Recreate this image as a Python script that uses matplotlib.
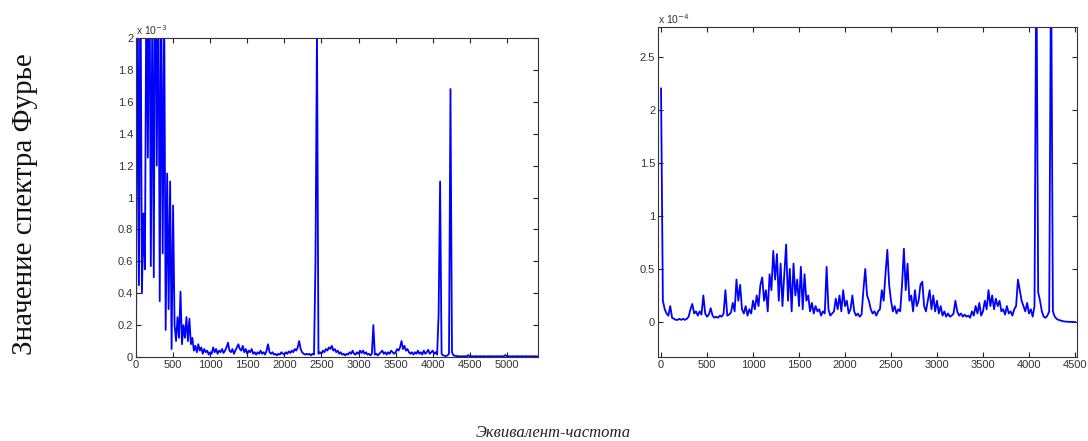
import numpy as np
import matplotlib
matplotlib.use("Agg")
import matplotlib.pyplot as plt
from matplotlib.ticker import FuncFormatter

# ---------------- data ----------------
# left spectrum, values in units of 1e-3, sampled every 20 frequency units from 0
left_step = 20
left_vals = [
    0.0, 2.6, 0.45, 2.5, 0.4, 0.9, 0.55, 2.4, 1.25, 2.8,          # 0-180
    0.57, 2.2, 0.5, 3.0, 1.2, 2.6, 0.35, 2.3, 0.65, 2.2,          # 200-380
    0.17, 1.15, 0.3, 1.1, 0.05, 0.95, 0.2, 0.1, 0.25, 0.12,       # 400-580
    0.41, 0.08, 0.2, 0.12, 0.25, 0.1, 0.24, 0.08, 0.12, 0.04,     # 600-780
    0.07, 0.03, 0.08, 0.04, 0.06, 0.02, 0.05, 0.03, 0.04, 0.015,  # 800-980
    0.03, 0.02, 0.06, 0.03, 0.05, 0.02, 0.04, 0.03, 0.05, 0.025,  # 1000-1180
    0.04, 0.06, 0.09, 0.04, 0.03, 0.05, 0.02, 0.04, 0.06, 0.08,   # 1200-1380
    0.05, 0.04, 0.07, 0.03, 0.05, 0.02, 0.04, 0.03, 0.05, 0.02,   # 1400-1580
    0.03, 0.015, 0.03, 0.02, 0.04, 0.02, 0.03, 0.015, 0.04, 0.08, # 1600-1780
    0.03, 0.02, 0.03, 0.015, 0.02, 0.01, 0.02, 0.015, 0.03, 0.02, # 1800-1980
    0.015, 0.03, 0.02, 0.035, 0.025, 0.04, 0.03, 0.05, 0.04, 0.06,# 2000-2180
    0.1, 0.05, 0.03, 0.02, 0.015, 0.02, 0.015, 0.02, 0.01, 0.02,  # 2200-2380
    0.015, 0.6, 2.05, 0.02, 0.03, 0.02, 0.04, 0.03, 0.05, 0.04,   # 2400-2580
    0.06, 0.05, 0.07, 0.04, 0.05, 0.03, 0.04, 0.02, 0.03, 0.015,  # 2600-2780
    0.02, 0.01, 0.02, 0.015, 0.03, 0.02, 0.04, 0.02, 0.015, 0.03, # 2800-2980
    0.02, 0.04, 0.025, 0.04, 0.02, 0.03, 0.015, 0.02, 0.01, 0.02, # 3000-3180
    0.2, 0.015, 0.02, 0.01, 0.02, 0.03, 0.04, 0.02, 0.03, 0.015,  # 3200-3380
    0.03, 0.02, 0.04, 0.03, 0.02, 0.03, 0.05, 0.04, 0.06, 0.1,    # 3400-3580
    0.05, 0.07, 0.04, 0.05, 0.03, 0.02, 0.03, 0.015, 0.03, 0.02,  # 3600-3780
    0.04, 0.02, 0.03, 0.015, 0.04, 0.02, 0.03, 0.045, 0.02, 0.03, # 3800-3980
    0.04, 0.02, 0.03, 0.015, 0.27, 1.1, 0.02, 0.01, 0.008, 0.006, # 4000-4180
    0.01, 0.02, 1.68, 0.03, 0.01, 0.008, 0.006, 0.005, 0.004, 0.004, # 4200-4380
    0.005, 0.004, 0.005, 0.004, 0.012, 0.004, 0.005, 0.004, 0.004, 0.005, # 4400-4580
    0.004, 0.004, 0.005, 0.004, 0.004, 0.005, 0.004, 0.004, 0.005, 0.004, # 4600-4780
    0.004, 0.005, 0.004, 0.004, 0.005, 0.004, 0.004, 0.005, 0.004, 0.012, # 4800-4980
    0.004, 0.005, 0.004, 0.004, 0.005, 0.004, 0.004, 0.005, 0.004, 0.004, # 5000-5180
    0.005, 0.004, 0.004, 0.005, 0.004, 0.004, 0.005, 0.004, 0.004, 0.005, # 5200-5380
    0.004, 0.004,                                                 # 5400-5420
]

# right spectrum, values in units of 1e-4, sampled every 20 frequency units from 0
right_step = 20
right_vals = [
    2.2, 0.2, 0.12, 0.08, 0.06, 0.15, 0.04, 0.03, 0.02, 0.02,     # 0-180
    0.03, 0.02, 0.03, 0.02, 0.03, 0.05, 0.12, 0.17, 0.08, 0.1,    # 200-380
    0.06, 0.1, 0.07, 0.25, 0.08, 0.05, 0.07, 0.13, 0.06, 0.04,    # 400-580
    0.05, 0.04, 0.06, 0.05, 0.08, 0.3, 0.06, 0.07, 0.09, 0.18,    # 600-780
    0.1, 0.4, 0.2, 0.35, 0.12, 0.08, 0.15, 0.06, 0.12, 0.08,      # 800-980
    0.2, 0.12, 0.25, 0.15, 0.35, 0.42, 0.2, 0.3, 0.1, 0.45,       # 1000-1180
    0.3, 0.67, 0.4, 0.64, 0.2, 0.55, 0.15, 0.45, 0.73, 0.2,       # 1200-1380
    0.5, 0.1, 0.55, 0.25, 0.4, 0.15, 0.52, 0.12, 0.45, 0.2,       # 1400-1580
    0.25, 0.1, 0.18, 0.08, 0.15, 0.1, 0.12, 0.06, 0.1, 0.08,      # 1600-1780
    0.52, 0.12, 0.06, 0.08, 0.1, 0.22, 0.12, 0.25, 0.1, 0.3,      # 1800-1980
    0.15, 0.2, 0.08, 0.12, 0.25, 0.1, 0.06, 0.08, 0.05, 0.07,     # 2000-2180
    0.3, 0.5, 0.25, 0.2, 0.12, 0.08, 0.1, 0.06, 0.1, 0.12,        # 2200-2380
    0.3, 0.2, 0.45, 0.68, 0.35, 0.2, 0.1, 0.15, 0.08, 0.12,       # 2400-2580
    0.1, 0.35, 0.69, 0.3, 0.55, 0.2, 0.25, 0.1, 0.3, 0.15,        # 2600-2780
    0.2, 0.35, 0.38, 0.15, 0.1, 0.2, 0.3, 0.12, 0.25, 0.1,        # 2800-2980
    0.2, 0.08, 0.15, 0.06, 0.1, 0.05, 0.08, 0.05, 0.06, 0.08,     # 3000-3180
    0.2, 0.1, 0.06, 0.08, 0.05, 0.07, 0.05, 0.06, 0.04, 0.1,      # 3200-3380
    0.06, 0.15, 0.08, 0.18, 0.06, 0.1, 0.2, 0.12, 0.3, 0.15,      # 3400-3580
    0.25, 0.12, 0.22, 0.15, 0.2, 0.1, 0.12, 0.07, 0.15, 0.08,     # 3600-3780
    0.1, 0.06, 0.12, 0.15, 0.4, 0.3, 0.2, 0.15, 0.1, 0.18,        # 3800-3980
    0.08, 0.12, 0.05, 0.15, 3.5, 0.28, 0.2, 0.1, 0.05, 0.04,      # 4000-4180
    0.06, 0.1, 3.5, 0.1, 0.05, 0.03, 0.02, 0.015, 0.01, 0.005,    # 4200-4380
    0.003, 0.002, 0.001, 0.001, 0.0, 0.0,                         # 4400-4500
]

left_xticks = [0, 500, 1000, 1500, 2000, 2500, 3000, 3500, 4000, 4500, 5000]
left_yticks = [0, 0.2, 0.4, 0.6, 0.8, 1.0, 1.2, 1.4, 1.6, 1.8, 2.0]
right_xticks = [0, 500, 1000, 1500, 2000, 2500, 3000, 3500, 4000, 4500]
right_yticks = [0, 0.5, 1.0, 1.5, 2.0, 2.5]

ylabel_text = "Значение спектра Фурье"
xlabel_text = "Эквивалент-частота"

# ---------------- plotting ----------------
W, H = 1088, 441
fig = plt.figure(figsize=(W / 100, H / 100), dpi=100)
fig.patch.set_facecolor("white")

line_color = "#0000ff"
tick_color = "#333333"


def style_axes(ax, xticks, yticks):
    ax.set_xticks(xticks)
    ax.set_yticks(yticks)
    ax.xaxis.set_major_formatter(FuncFormatter(lambda v, p: "%g" % v))
    ax.yaxis.set_major_formatter(FuncFormatter(lambda v, p: "%g" % round(v, 3)))
    ax.tick_params(direction="in", length=3.5, width=0.8, top=True, right=True,
                   labelsize=8, colors="#222222", labelcolor=tick_color, pad=2)
    for sp in ax.spines.values():
        sp.set_linewidth(0.8)
        sp.set_color("#333333")
    for lbl in ax.get_xticklabels() + ax.get_yticklabels():
        lbl.set_family("Liberation Sans")


# left axes
axL = fig.add_axes([136 / W, 1 - 357 / H, (538 - 136) / W, (357 - 38) / H])
xL = np.arange(len(left_vals)) * left_step
axL.plot(xL, left_vals, color=line_color, lw=1.3)
axL.set_xlim(0, 5420)
axL.set_ylim(0, 2.0)
style_axes(axL, left_xticks, left_yticks)
axL.text(0.0, 1.003, r"x 10$^{-3}$", transform=axL.transAxes, ha="left", va="bottom",
         fontsize=7.5, color=tick_color, family="Liberation Sans")

# right axes
axR = fig.add_axes([658 / W, 1 - 357 / H, (1077 - 658) / W, (357 - 27) / H])
xR = np.arange(len(right_vals)) * right_step
axR.plot(xR, right_vals, color=line_color, lw=1.3)
axR.set_xlim(-33, 4522)
axR.set_ylim(-0.33, 2.78)
style_axes(axR, right_xticks, right_yticks)
axR.text(0.0, 1.003, r"x 10$^{-4}$", transform=axR.transAxes, ha="left", va="bottom",
         fontsize=7.5, color=tick_color, family="Liberation Sans")

# labels
fig.text(25 / W, 1 - 204 / H, ylabel_text, rotation=90, ha="center", va="center",
         fontsize=21, family="Liberation Serif", color="#111111")
fig.text(553 / W, 1 - 433 / H, xlabel_text, ha="center", va="center",
         fontsize=12, family="Liberation Serif", style="italic", color="#222222")

fig.savefig("out.png", dpi=100, facecolor="white")
